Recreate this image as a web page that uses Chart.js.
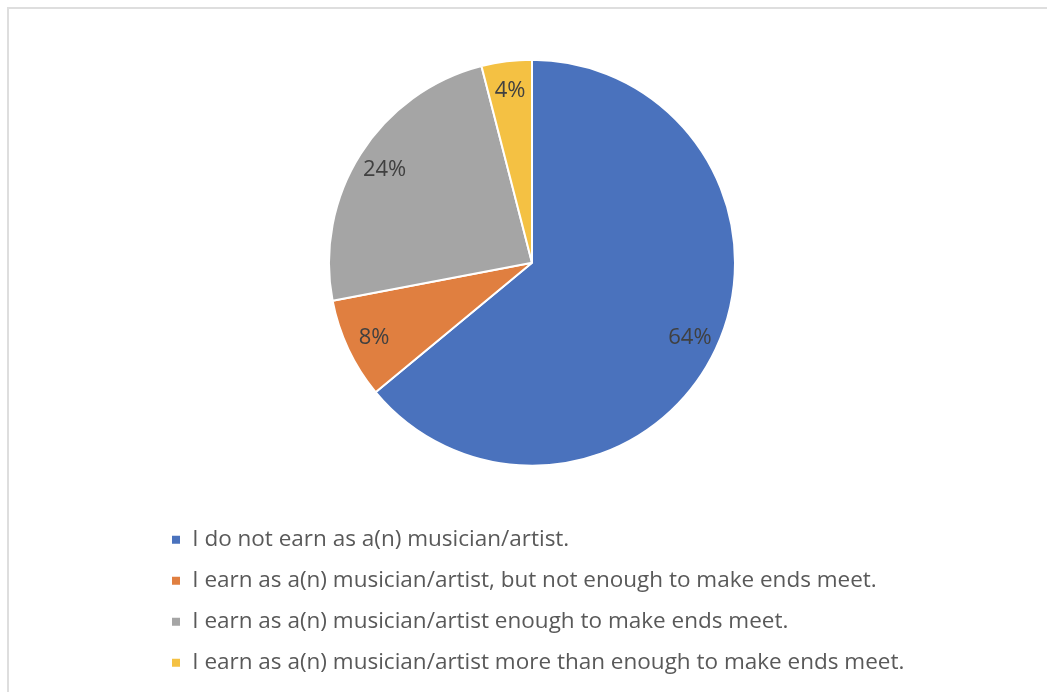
<!DOCTYPE html>
<html>
<head>
<meta charset="utf-8">
<script src="https://cdn.jsdelivr.net/npm/chart.js@4/dist/chart.umd.min.js"></script>
<style>
  html, body { margin: 0; padding: 0; background: #ffffff; overflow: hidden; }
  #frame {
    position: absolute; left: 7px; top: 7px; width: 2000px; height: 2000px;
    border-top: 2px solid #dedede; border-left: 2px solid #dedede;
  }
  #wrap { position: absolute; left: 0; top: 0; width: 1047px; height: 692px; }
</style>
</head>
<body>
<div id="frame"></div>
<div id="wrap"><canvas id="chart"></canvas></div>
<script>
// Survey answers and their shares (percent)
const categories = [
  'I do not earn as a(n) musician/artist.',
  'I earn as a(n) musician/artist, but not enough to make ends meet.',
  'I earn as a(n) musician/artist enough to make ends meet.',
  'I earn as a(n) musician/artist more than enough to make ends meet.'
];
const shares = [64, 8, 24, 4];
const sliceColors = ['#4a72bd', '#e07f40', '#a5a5a5', '#f4c143'];

const FONT = '"Open Sans", "DejaVu Sans", sans-serif';

// Writes each slice's percentage inside the slice
const sliceLabels = {
  id: 'sliceLabels',
  afterDatasetsDraw(chart) {
    const ctx = chart.ctx;
    const meta = chart.getDatasetMeta(0);
    const values = chart.data.datasets[0].data;
    const total = values.reduce((a, b) => a + b, 0);
    ctx.save();
    ctx.font = '22px ' + FONT;
    ctx.fillStyle = '#404040';
    ctx.textAlign = 'center';
    ctx.textBaseline = 'middle';
    meta.data.forEach((arc, i) => {
      const p = arc.getProps(['x', 'y', 'startAngle', 'endAngle', 'outerRadius'], true);
      const mid = (p.startAngle + p.endAngle) / 2;
      const r = p.outerRadius * 0.86;
      const pct = Math.round(values[i] / total * 100) + '%';
      ctx.fillText(pct, p.x + Math.cos(mid) * r, p.y + Math.sin(mid) * r + 1);
    });
    ctx.restore();
  }
};

new Chart(document.getElementById('chart'), {
  type: 'pie',
  data: {
    labels: categories,
    datasets: [{
      data: shares,
      backgroundColor: sliceColors,
      borderColor: '#ffffff',
      borderWidth: 2,
      radius: 203
    }]
  },
  options: {
    responsive: true,
    maintainAspectRatio: false,
    animation: false,
    layout: { padding: { left: 152.5, right: 135.5, top: 15.5, bottom: 8 } },
    plugins: {
      tooltip: { enabled: false },
      legend: {
        position: 'bottom',
        align: 'start',
        labels: {
          boxWidth: 10,
          boxHeight: 10,
          padding: 18.5,
          color: '#595959',
          font: { family: FONT, size: 22.5 }
        }
      }
    }
  },
  plugins: [sliceLabels]
});
</script>
</body>
</html>
